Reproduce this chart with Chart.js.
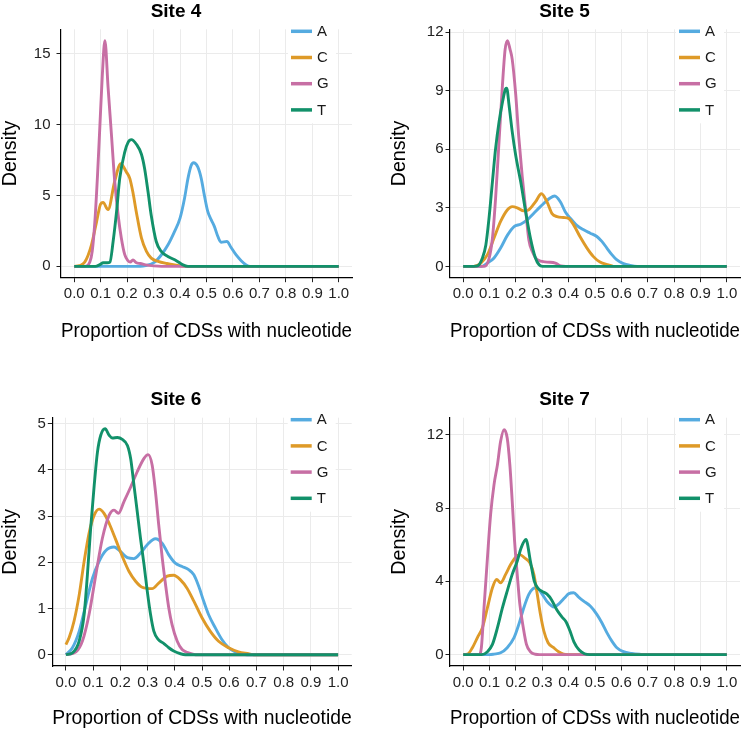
<!DOCTYPE html>
<html>
<head>
<meta charset="utf-8">
<script src="https://cdn.jsdelivr.net/npm/chart.js@4.4.1/dist/chart.umd.min.js"></script>
<style>
  body { margin: 0; background: #fff; }
  #wrap { position: relative; width: 750px; height: 733px; }
  .panel { position: absolute; }
</style>
</head>
<body>
<div id="wrap">
  <div class="panel" style="left:0;top:0"><canvas id="c4" width="375" height="366"></canvas></div>
  <div class="panel" style="left:375px;top:0"><canvas id="c5" width="375" height="366"></canvas></div>
  <div class="panel" style="left:0;top:366px"><canvas id="c6" width="375" height="367"></canvas></div>
  <div class="panel" style="left:375px;top:366px"><canvas id="c7" width="375" height="367"></canvas></div>
</div>
<script>
// density curves, [proportion, density]
const nucleotides = ["A", "C", "G", "T"]
const nucColors = ["#55ABE0", "#DE9A28", "#C76FA4", "#12916A"]
const xTicks = [0, 0.1, 0.2, 0.3, 0.4, 0.5, 0.6, 0.7, 0.8, 0.9, 1.0]

const site4A = [[0,0],[0.25,0],[0.27,0.05],[0.304,0.3],[0.329,0.8],[0.354,1.5],[0.379,2.45],[0.4,3.4],[0.417,4.8],[0.43,6.2],[0.442,7.1],[0.451,7.3],[0.467,7.0],[0.48,6.2],[0.492,5.0],[0.505,3.85],[0.518,3.27],[0.53,2.8],[0.543,2.1],[0.555,1.7],[0.577,1.75],[0.593,1.33],[0.612,0.8],[0.631,0.4],[0.65,0.1],[0.665,0],[1,0]]
const site4C = [[0,0],[0.02,0.05],[0.04,0.3],[0.065,1.5],[0.084,3.1],[0.1,4.4],[0.109,4.5],[0.128,4.0],[0.153,6.0],[0.176,7.23],[0.197,6.65],[0.21,6.2],[0.222,5.2],[0.235,3.8],[0.254,2.0],[0.273,1.05],[0.291,0.58],[0.317,0.35],[0.35,0.2],[0.38,0.1],[0.42,0],[1,0]]
const site4G = [[0,0],[0.04,0],[0.059,0.3],[0.068,1.05],[0.078,3.15],[0.088,6.4],[0.097,9.9],[0.106,13.4],[0.116,15.9],[0.128,12.6],[0.141,9.2],[0.153,6.0],[0.166,3.6],[0.178,2.0],[0.191,0.82],[0.203,0.4],[0.212,0.3],[0.222,0.45],[0.235,0.25],[0.25,0.2],[0.27,0.1],[0.3,0.03],[0.33,0],[1,0]]
const site4T = [[0,0],[0.08,0],[0.095,0.1],[0.11,0.25],[0.125,0.25],[0.135,0.3],[0.147,1.75],[0.16,3.85],[0.172,6.2],[0.191,8.05],[0.204,8.75],[0.216,8.93],[0.235,8.6],[0.254,7.9],[0.266,6.9],[0.279,5.25],[0.291,3.6],[0.31,1.75],[0.329,1.05],[0.354,0.7],[0.386,0.4],[0.411,0.1],[0.43,0],[1,0]]

const site5A = [[0,0],[0.07,0],[0.092,0.17],[0.117,0.43],[0.142,0.94],[0.168,1.6],[0.193,2.04],[0.218,2.16],[0.243,2.38],[0.268,2.72],[0.293,3.06],[0.33,3.5],[0.347,3.6],[0.369,3.3],[0.387,2.8],[0.406,2.47],[0.431,2.1],[0.457,1.87],[0.482,1.7],[0.507,1.53],[0.526,1.28],[0.545,0.94],[0.564,0.6],[0.582,0.34],[0.608,0.14],[0.633,0.05],[0.66,0],[1,0]]
const site5C = [[0,0],[0.04,0],[0.067,0.17],[0.092,0.6],[0.117,1.45],[0.142,2.3],[0.168,2.9],[0.186,3.06],[0.205,3.0],[0.23,2.84],[0.249,2.9],[0.274,3.3],[0.297,3.72],[0.318,3.3],[0.337,2.7],[0.356,2.55],[0.381,2.5],[0.4,2.45],[0.42,2.1],[0.444,1.5],[0.469,0.95],[0.494,0.5],[0.519,0.22],[0.551,0.08],[0.57,0],[1,0]]
const site5G = [[0,0],[0.08,0],[0.098,0.4],[0.111,1.45],[0.123,3.5],[0.136,6.4],[0.149,9.3],[0.159,11.1],[0.168,11.56],[0.178,11.1],[0.186,10.6],[0.199,8.84],[0.211,6.6],[0.224,4.6],[0.237,2.9],[0.249,1.36],[0.262,0.77],[0.281,0.34],[0.318,0.22],[0.35,0.17],[0.37,0.02],[0.39,0],[1,0]]
const site5T = [[0,0],[0.04,0],[0.054,0.02],[0.073,0.43],[0.086,1.1],[0.098,2.47],[0.111,4.34],[0.123,6.04],[0.136,7.4],[0.149,8.4],[0.161,9.1],[0.165,9.13],[0.174,8.25],[0.186,6.9],[0.199,5.7],[0.218,4.34],[0.237,2.8],[0.255,1.45],[0.274,0.43],[0.288,0.08],[0.3,0],[1,0]]

const site6A = [[0,0],[0.024,0.15],[0.049,0.51],[0.073,1.08],[0.098,1.66],[0.122,2.02],[0.146,2.25],[0.177,2.33],[0.201,2.23],[0.226,2.1],[0.25,2.08],[0.274,2.2],[0.299,2.38],[0.329,2.51],[0.354,2.41],[0.378,2.16],[0.402,1.98],[0.427,1.91],[0.451,1.84],[0.47,1.73],[0.488,1.48],[0.506,1.16],[0.524,0.87],[0.549,0.58],[0.573,0.33],[0.598,0.15],[0.622,0.06],[0.646,0.02],[0.665,0],[1,0]]
const site6C = [[0,0.22],[0.012,0.37],[0.03,0.73],[0.049,1.3],[0.067,2.02],[0.085,2.63],[0.104,3.02],[0.122,3.15],[0.14,3.06],[0.159,2.84],[0.183,2.49],[0.207,2.13],[0.232,1.8],[0.256,1.59],[0.28,1.46],[0.317,1.43],[0.341,1.55],[0.372,1.7],[0.396,1.72],[0.421,1.62],[0.445,1.44],[0.47,1.16],[0.5,0.8],[0.53,0.51],[0.561,0.29],[0.598,0.15],[0.634,0.06],[0.671,0.02],[0.69,0],[1,0]]
const site6G = [[0,0],[0.037,0.06],[0.061,0.3],[0.085,0.87],[0.11,1.73],[0.134,2.52],[0.159,3.02],[0.177,3.13],[0.193,3.06],[0.213,3.31],[0.238,3.63],[0.262,3.96],[0.287,4.25],[0.302,4.33],[0.317,4.1],[0.329,3.53],[0.341,2.81],[0.354,2.09],[0.366,1.52],[0.378,1.01],[0.39,0.65],[0.409,0.29],[0.427,0.11],[0.451,0.04],[0.476,0],[1,0]]
const site6T = [[0,0],[0.024,0.04],[0.049,0.3],[0.067,0.87],[0.079,1.73],[0.091,2.74],[0.104,3.67],[0.116,4.39],[0.128,4.75],[0.144,4.89],[0.159,4.75],[0.171,4.69],[0.189,4.7],[0.207,4.66],[0.226,4.53],[0.238,4.24],[0.25,3.67],[0.262,3.1],[0.274,2.52],[0.287,1.95],[0.299,1.37],[0.311,0.87],[0.323,0.51],[0.339,0.33],[0.36,0.24],[0.378,0.15],[0.396,0.08],[0.421,0.02],[0.439,0],[1,0]]

const site7A = [[0,0],[0.1,0],[0.117,0.03],[0.142,0.1],[0.167,0.38],[0.193,0.93],[0.211,1.65],[0.23,2.56],[0.249,3.29],[0.265,3.6],[0.278,3.65],[0.3,3.29],[0.318,2.9],[0.345,2.6],[0.365,2.8],[0.385,3.1],[0.4,3.32],[0.419,3.38],[0.438,3.14],[0.457,2.92],[0.482,2.65],[0.507,2.2],[0.526,1.74],[0.545,1.2],[0.564,0.74],[0.583,0.38],[0.608,0.16],[0.639,0.07],[0.67,0.02],[0.69,0],[1,0]]
const site7C = [[0,0],[0.016,0.02],[0.035,0.38],[0.054,0.93],[0.073,1.47],[0.092,2.56],[0.111,3.65],[0.127,4.1],[0.142,3.92],[0.161,4.38],[0.18,4.92],[0.199,5.32],[0.215,5.46],[0.233,5.28],[0.253,5.01],[0.268,4.38],[0.281,3.29],[0.293,2.2],[0.306,1.29],[0.322,0.65],[0.343,0.38],[0.362,0.16],[0.381,0.02],[0.4,0],[1,0]]
const site7G = [[0,0],[0.06,0],[0.069,0.38],[0.079,2.56],[0.092,5.28],[0.104,7.64],[0.117,9.28],[0.13,10.37],[0.142,11.64],[0.155,12.27],[0.167,11.82],[0.177,10.37],[0.186,8.37],[0.195,6.19],[0.205,4.38],[0.215,2.74],[0.228,1.47],[0.24,0.56],[0.255,0.16],[0.274,0.02],[0.29,0],[1,0]]
const site7T = [[0,0],[0.07,0],[0.092,0.16],[0.111,0.56],[0.13,1.47],[0.149,2.56],[0.167,3.47],[0.186,4.38],[0.205,5.1],[0.22,5.83],[0.238,6.28],[0.255,5.1],[0.27,4.0],[0.285,3.6],[0.3,3.45],[0.318,3.3],[0.335,3.0],[0.355,2.45],[0.375,2.05],[0.39,1.8],[0.405,1.3],[0.42,0.7],[0.44,0.25],[0.46,0.05],[0.48,0],[1,0]]

const site4YTicks = [0, 5, 10, 15]
const site5YTicks = [0, 3, 6, 9, 12]
const site6YTicks = [0, 1, 2, 3, 4, 5]
const site7YTicks = [0, 4, 8, 12]

const fontFam = "'Liberation Sans', Arial, sans-serif"

// legend drawn inside the panel, top right
const keyLegend = {
  id: "keyLegend",
  afterDatasetsDraw(chart) {
    const { ctx, chartArea } = chart
    const x0 = chartArea.right - 61
    ctx.save()
    ctx.fillStyle = "#fff"
    ctx.fillRect(x0 - 3, chartArea.top - 10, 48, 104)
    chart.data.datasets.forEach((ds, i) => {
      let y = chartArea.top + 2 + i * 26.2
      ctx.strokeStyle = ds.borderColor
      ctx.lineWidth = 3.5
      ctx.beginPath()
      ctx.moveTo(x0, y)
      ctx.lineTo(x0 + 21, y)
      ctx.stroke()
      ctx.fillStyle = "#1a1a1a"
      ctx.font = "15px " + fontFam
      ctx.textBaseline = "middle"
      ctx.textAlign = "left"
      ctx.fillText(ds.label, x0 + 26, y + 0.5)
    })
    ctx.restore()
  }
}

function buildPanel(p) {
  let datasets = p.series.map((s, i) => ({
    label: nucleotides[i],
    data: s.map(([x, y]) => ({ x: x, y: y })),
    borderColor: nucColors[i],
    borderWidth: 2.9,
    pointRadius: 0,
    fill: false,
    cubicInterpolationMode: "monotone",
    order: 3 - i
  }))

  return new Chart(document.getElementById(p.id), {
    type: "line",
    data: { datasets: datasets },
    plugins: [keyLegend],
    options: {
      responsive: false,
      animation: false,
      layout: { padding: p.pad },
      plugins: {
        legend: { display: false },
        tooltip: { enabled: false },
        title: {
          display: true,
          text: p.title,
          color: "#000",
          font: { family: fontFam, size: 19, weight: "bold", lineHeight: 1.2 },
          padding: { top: 0, bottom: 6.5 }
        }
      },
      scales: {
        x: {
          type: "linear",
          min: -0.05,
          max: 1.05,
          afterBuildTicks: (scale) => { scale.ticks = xTicks.map(v => ({ value: v })) },
          afterFit: (scale) => { scale.height = p.xHeight },
          ticks: {
            autoSkip: false,
            maxRotation: 0,
            padding: 3,
            color: "#222",
            font: { family: fontFam, size: 15 },
            callback: (v) => v.toFixed(1)
          },
          grid: { color: "#ebebeb", lineWidth: 1, tickColor: "#222", tickLength: 4.5 },
          border: { display: true, color: "#000", width: 1.2 },
          title: {
            display: true,
            text: "Proportion of CDSs with nucleotide",
            color: "#000",
            font: { family: fontFam, size: 19.7, lineHeight: 1.1 },
            padding: { top: 0, bottom: p.xTitlePad }
          }
        },
        y: {
          type: "linear",
          min: p.yMin,
          max: p.yMax,
          afterBuildTicks: (scale) => { scale.ticks = p.yTicks.map(v => ({ value: v })) },
          afterFit: (scale) => { scale.width = p.yWidth },
          ticks: {
            padding: p.yTickPad,
            color: "#222",
            font: { family: fontFam, size: 15 },
            callback: (v) => String(v)
          },
          grid: { color: "#ebebeb", lineWidth: 1, tickColor: "#222", tickLength: 4.5 },
          border: { display: true, color: "#000", width: 1.2 },
          title: {
            display: true,
            text: "Density",
            color: "#000",
            font: { family: fontFam, size: 19.7, lineHeight: 1.1 },
            padding: { top: 0, bottom: 0 }
          }
        }
      }
    }
  })
}

const panels = [
  { id: "c4", title: "Site 4", series: [site4A, site4C, site4G, site4T], yTicks: site4YTicks, yMin: -0.8, yMax: 16.7,
    pad: { left: 0, top: 0, right: 23, bottom: 0 }, yWidth: 61, xHeight: 88.3, xTitlePad: 23.5, yTickPad: 6 },
  { id: "c5", title: "Site 5", series: [site5A, site5C, site5G, site5T], yTicks: site5YTicks, yMin: -0.58, yMax: 12.14,
    pad: { left: 14, top: 0, right: 10, bottom: 0 }, yWidth: 61, xHeight: 88.3, xTitlePad: 23.5, yTickPad: 2 },
  { id: "c6", title: "Site 6", series: [site6A, site6C, site6G, site6T], yTicks: site6YTicks, yMin: -0.245, yMax: 5.13,
    pad: { left: 0, top: 22.4, right: 23.3, bottom: 0 }, yWidth: 52.3, xHeight: 67, xTitlePad: 3.5, yTickPad: 2 },
  { id: "c7", title: "Site 7", series: [site7A, site7C, site7G, site7T], yTicks: site7YTicks, yMin: -0.62, yMax: 12.93,
    pad: { left: 14, top: 22.4, right: 10, bottom: 0 }, yWidth: 61, xHeight: 67, xTitlePad: 3.5, yTickPad: 2 }
]

panels.forEach(buildPanel)
</script>
</body>
</html>
